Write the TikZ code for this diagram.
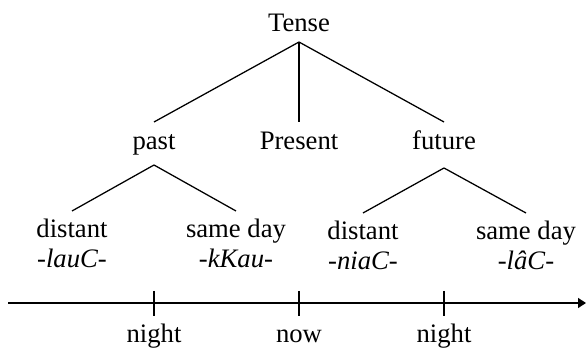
\documentclass[tikz,border=0pt]{standalone}
\usepackage{fontspec}
\setmainfont{Liberation Serif}
\usetikzlibrary{calc,arrows.meta}
\begin{document}
\begin{tikzpicture}[x=0.75pt,y=-0.75pt,
  lbl/.style={inner sep=0pt,font=\fontsize{20}{22.5}\selectfont},
  twoline/.style={lbl,align=center,anchor=north},
  branch/.style={line width=0.95pt},
  axis/.style={line width=0.95pt,-{Triangle[length=6pt,width=7.5pt]}},
  tick/.style={line width=0.95pt}]
\useasboundingbox (0,0) rectangle (586,348);

% tree labels
\node[lbl,anchor=base] (tense)   at (299,32)  {Tense};
\node[lbl,anchor=base] (past)    at (154,150) {past};
\node[lbl,anchor=base] (present) at (299,150) {Present};
\node[lbl,anchor=base] (future)  at (444,150) {future};
\node[twoline] (pdist) at (72,219)  {distant\\\textit{-lauC-}};
\node[twoline] (psame) at (236,219) {same day\\\textit{-kKau-}};
\node[twoline] (fdist) at (363,221) {distant\\\textit{-niaC-}};
\node[twoline] (fsame) at (526,221) {same day\\\textit{-lâC-}};

% branches
\draw[branch] ($(tense.base)+(0,10)$) -- ($(past.base)+(0,-28)$);
\draw[branch] ($(tense.base)+(0,10)$) -- ($(present.base)+(0,-28)$);
\draw[branch] ($(tense.base)+(0,10)$) -- ($(future.base)+(0,-28)$);
\draw[branch] ($(past.base)+(0,15)$) -- ($(pdist.north)+(0,-8)$);
\draw[branch] ($(past.base)+(0,15)$) -- ($(psame.north)+(0,-8)$);
\draw[branch] ($(future.base)+(0,18)$) -- ($(fdist.north)+(0,-8)$);
\draw[branch] ($(future.base)+(0,18)$) -- ($(fsame.north)+(0,-8)$);

% time line
\coordinate (tl0) at (8,303);
\coordinate (tl1) at (586,303);
\draw[axis] (tl0) -- (tl1);
\node[lbl,anchor=base] (night1) at (154,343) {night};
\node[lbl,anchor=base] (now)    at (299,343) {now};
\node[lbl,anchor=base] (night2) at (444,343) {night};
\foreach \n in {night1,now,night2}
  \draw[tick] ($(\n.base)+(0,-52)$) -- ($(\n.base)+(0,-27)$);
\end{tikzpicture}
\end{document}
